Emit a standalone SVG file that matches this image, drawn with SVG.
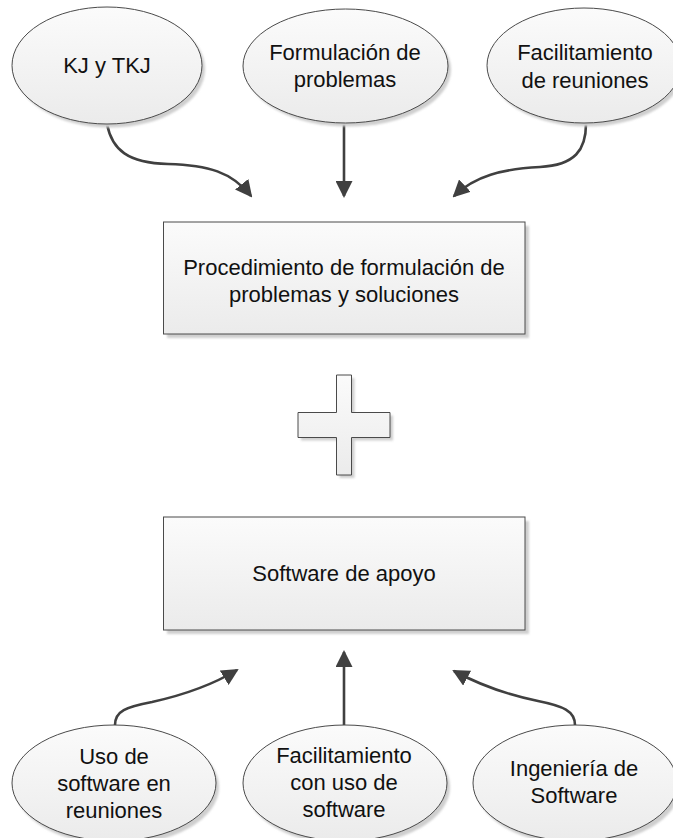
<svg xmlns="http://www.w3.org/2000/svg" width="673" height="838" viewBox="0 0 673 838">
  <defs>
    <linearGradient id="g" x1="0" y1="0" x2="0" y2="1">
      <stop offset="0" stop-color="#fbfbfb"/>
      <stop offset="1" stop-color="#ebebeb"/>
    </linearGradient>
    <filter id="sh" x="-10%" y="-10%" width="130%" height="130%">
      <feGaussianBlur stdDeviation="1.2"/>
    </filter>
    <marker id="ah" markerUnits="userSpaceOnUse" viewBox="0 0 17 17" markerWidth="17" markerHeight="17" refX="15" refY="8.5" orient="auto">
      <path d="M0,0 L17,8.5 L0,17 Z" fill="#404040"/>
    </marker>
  </defs>
  <style>
    .shape { fill: url(#g); stroke: #4a4a4a; stroke-width: 1; }
    .shadow { fill: #cfcfcf; filter: url(#sh); }
    .lbl { font-family: "Liberation Sans", Arial, sans-serif; font-size: 22px; fill: #111; text-anchor: middle; }
    .conn { fill: none; stroke: #404040; stroke-width: 2.6; marker-end: url(#ah); }
  </style>
  <rect width="673" height="838" fill="#ffffff"/>

  <g id="connectors">
    <path class="conn" d="M107,124 C112,150 128,163 168,164 C208,165 232,172 251,196"/>
    <path class="conn" d="M344,124 L344,196"/>
    <path class="conn" d="M586,124 C586,150 575,165 540,167 C502,169 475,176 454,196"/>
    <path class="conn" d="M115,725 C115,711 126,707 152,702 C188,694 214,684 237,670"/>
    <path class="conn" d="M344,725 L344,652"/>
    <path class="conn" d="M575,725 C575,711 563,706 538,701 C504,694 478,684 454,671"/>
  </g>

  <g id="kj">
    <ellipse class="shadow" cx="110" cy="69" rx="95" ry="58.5"/>
    <ellipse class="shape" cx="107" cy="65.5" rx="95" ry="58.5"/>
    <text class="lbl" x="107" y="73">KJ y TKJ</text>
  </g>
  <g id="formulacion">
    <ellipse class="shadow" cx="348.5" cy="69.5" rx="102.5" ry="57"/>
    <ellipse class="shape" cx="345.5" cy="66" rx="102.5" ry="57"/>
    <text class="lbl" x="345" y="60">Formulación de</text>
    <text class="lbl" x="345" y="87">problemas</text>
  </g>
  <g id="facilitamiento">
    <ellipse class="shadow" cx="587" cy="69" rx="97" ry="57.5"/>
    <ellipse class="shape" cx="584" cy="65.5" rx="97" ry="57.5"/>
    <text class="lbl" x="585" y="60">Facilitamiento</text>
    <text class="lbl" x="585" y="88">de reuniones</text>
  </g>

  <g id="procedimiento">
    <rect class="shadow" x="167" y="226" width="362" height="112"/>
    <rect class="shape" x="163.5" y="222" width="361.5" height="112"/>
    <text class="lbl" x="344" y="275">Procedimiento de formulación de</text>
    <text class="lbl" x="344" y="302">problemas y soluciones</text>
  </g>

  <g id="plus">
    <path class="shadow" transform="translate(3,3)" d="M336.5,375 H351.5 V412.5 H390 V437.5 H351.5 V475 H336.5 V437.5 H298 V412.5 H336.5 Z"/>
    <path class="shape" d="M336.5,375 H351.5 V412.5 H390 V437.5 H351.5 V475 H336.5 V437.5 H298 V412.5 H336.5 Z"/>
  </g>

  <g id="software-apoyo">
    <rect class="shadow" x="167" y="521" width="362" height="113"/>
    <rect class="shape" x="163.5" y="517" width="361.5" height="113"/>
    <text class="lbl" x="344" y="581">Software de apoyo</text>
  </g>

  <g id="uso-software">
    <ellipse class="shadow" cx="117" cy="787" rx="102" ry="58"/>
    <ellipse class="shape" cx="114" cy="783" rx="102" ry="58"/>
    <text class="lbl" x="114" y="764">Uso de</text>
    <text class="lbl" x="114" y="791">software en</text>
    <text class="lbl" x="114" y="818">reuniones</text>
  </g>
  <g id="facilitamiento-software">
    <ellipse class="shadow" cx="348" cy="787" rx="102" ry="58"/>
    <ellipse class="shape" cx="345" cy="783" rx="102" ry="58"/>
    <text class="lbl" x="344" y="763">Facilitamiento</text>
    <text class="lbl" x="344" y="790">con uso de</text>
    <text class="lbl" x="344" y="817">software</text>
  </g>
  <g id="ingenieria">
    <ellipse class="shadow" cx="578" cy="787" rx="102" ry="58"/>
    <ellipse class="shape" cx="575" cy="783" rx="102" ry="58"/>
    <text class="lbl" x="574" y="776">Ingeniería de</text>
    <text class="lbl" x="574" y="803">Software</text>
  </g>
</svg>
